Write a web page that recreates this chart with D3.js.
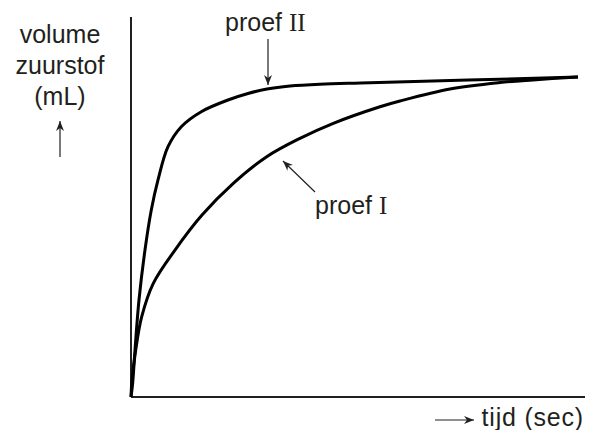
<!DOCTYPE html>
<html>
<head>
<meta charset="utf-8">
<script src="https://cdn.jsdelivr.net/npm/d3@7"></script>
<style>
  body { margin: 0; background: #fff; }
  svg { display: block; }
  text { font-family: "Liberation Sans", Arial, Helvetica, sans-serif; fill: #231f20; }
  .roman { font-family: "Liberation Serif", "Times New Roman", serif; }
</style>
</head>
<body>
<svg id="chart" width="590" height="430"></svg>
<script>
// time (arbitrary units) and volume (arbitrary units)
const timeII   = [0, 0.37, 0.88, 1.76, 3.08, 4.47, 5.95, 8.15, 11.08, 15.48, 21.37, 25.77, 29.96, 35.02, 41.63, 52.64, 98.46];
const volumeII = [0, 3.68, 12.37, 25.53, 38.68, 49.21, 57.11, 65.87, 71.13, 75.08, 78.16, 79.87, 81.05, 81.84, 82.32, 82.68, 84.21];
const timeI    = [0, 0.22, 1.04, 2.36, 4.91, 9.69, 15.64, 22.53, 29.89, 37.22, 44.56, 54.85, 59.25, 70.26, 81.28, 88.55, 98.46];
const volumeI  = [0, 4.47, 12.37, 21.13, 29.92, 38.68, 47.89, 56.24, 63.24, 68.08, 72.03, 76.39, 77.9, 81.05, 82.76, 83.45, 84.21];
const yLabelLines = ["volume", "zuurstof", "(mL)"];
const xLabel = "tijd (sec)";

const svg = d3.select("#chart");
const x = d3.scaleLinear().domain([0, 100]).range([131, 585]);
const y = d3.scaleLinear().domain([0, 100]).range([397, 17]);

const defs = svg.append("defs");
defs.append("marker").attr("id", "ah").attr("viewBox", "0 0 10 10")
  .attr("refX", 10).attr("refY", 5).attr("markerWidth", 10).attr("markerHeight", 10)
  .attr("markerUnits", "userSpaceOnUse").attr("orient", "auto")
  .append("path").attr("d", "M0,1 L10,5 L0,9 L3,5 Z").attr("fill", "#231f20");

// axes (no ticks)
svg.append("line").attr("x1", x(0)).attr("x2", x(0)).attr("y1", y(100)).attr("y2", y(0))
  .attr("stroke", "#231f20").attr("stroke-width", 2);
svg.append("line").attr("x1", x(0)).attr("x2", x(100)).attr("y1", y(0)).attr("y2", y(0))
  .attr("stroke", "#231f20").attr("stroke-width", 2);

const line = d3.line().x(d => x(d[0])).y(d => y(d[1])).curve(d3.curveCatmullRom.alpha(0.5));
const dataI = timeI.map((t, i) => [t, volumeI[i]]);
const dataII = timeII.map((t, i) => [t, volumeII[i]]);
[dataI, dataII].forEach(d => {
  svg.append("path").datum(d).attr("d", line).attr("fill", "none")
    .attr("stroke", "#000").attr("stroke-width", 3).attr("stroke-linejoin", "round");
});

// y label
const yl = svg.append("text").attr("text-anchor", "middle").attr("font-size", 25);
yLabelLines.forEach((s, i) => yl.append("tspan").attr("x", 60).attr("y", 43 + i * 31).text(s));
svg.append("line").attr("x1", 60).attr("x2", 60).attr("y1", 157).attr("y2", 121)
  .attr("stroke", "#231f20").attr("stroke-width", 1.2).attr("marker-end", "url(#ah)");

// x label
svg.append("text").attr("x", 584).attr("y", 426).attr("text-anchor", "end")
  .attr("font-size", 25).attr("letter-spacing", 0.8).text(xLabel);
svg.append("line").attr("x1", 435).attr("x2", 474).attr("y1", 420).attr("y2", 420)
  .attr("stroke", "#231f20").attr("stroke-width", 1.2).attr("marker-end", "url(#ah)");

// proef II annotation
const t2 = svg.append("text").attr("x", 225).attr("y", 31).attr("font-size", 25);
t2.append("tspan").text("proef ");
t2.append("tspan").attr("class", "roman").text("II");
svg.append("line").attr("x1", 268).attr("x2", 268).attr("y1", 39).attr("y2", 85)
  .attr("stroke", "#231f20").attr("stroke-width", 1.2).attr("marker-end", "url(#ah)");

// proef I annotation
const t1 = svg.append("text").attr("x", 315).attr("y", 214).attr("font-size", 25);
t1.append("tspan").text("proef ");
t1.append("tspan").attr("class", "roman").text("I");
svg.append("line").attr("x1", 315).attr("x2", 283).attr("y1", 192).attr("y2", 161)
  .attr("stroke", "#231f20").attr("stroke-width", 1.2).attr("marker-end", "url(#ah)");
</script>
</body>
</html>
